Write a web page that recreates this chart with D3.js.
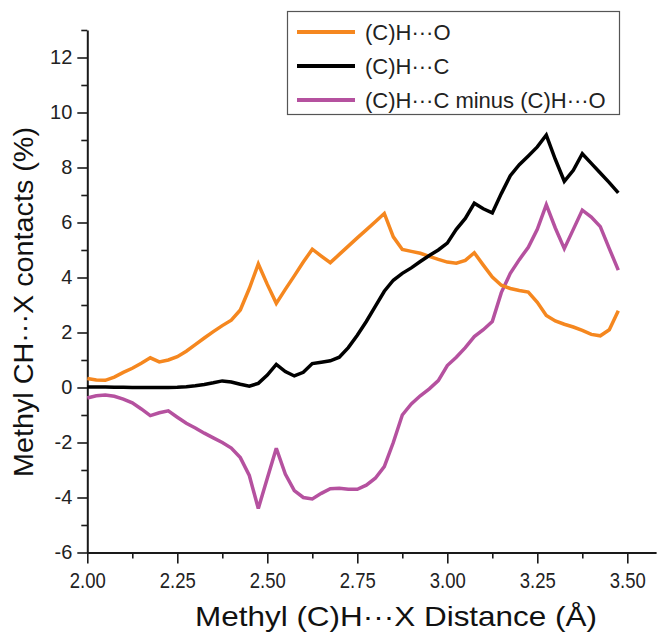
<!DOCTYPE html>
<html>
<head>
<meta charset="utf-8">
<script src="https://cdn.jsdelivr.net/npm/d3@7"></script>
<style>
  html, body { margin: 0; padding: 0; background: #fff; }
  svg { display: block; font-family: "Liberation Sans", Arial, sans-serif; }
</style>
</head>
<body>
<svg id="chart" width="657" height="632"></svg>
<script>
// Methyl (C)H···X distance, Å
const distance = [
  2.000, 2.025, 2.050, 2.075, 2.100, 2.125, 2.150, 2.175, 2.200, 2.225,
  2.250, 2.275, 2.300, 2.325, 2.350, 2.375, 2.400, 2.425, 2.450, 2.475,
  2.500, 2.525, 2.550, 2.575, 2.600, 2.625, 2.650, 2.675, 2.700, 2.725,
  2.750, 2.775, 2.800, 2.825, 2.850, 2.875, 2.900, 2.925, 2.950, 2.975,
  3.000, 3.025, 3.050, 3.075, 3.100, 3.125, 3.150, 3.175, 3.200, 3.225,
  3.250, 3.275, 3.300, 3.325, 3.350, 3.375, 3.400, 3.425, 3.450, 3.475
];

// (C)H···O contacts, %
const hoContacts = [
  0.33, 0.27, 0.26, 0.38, 0.55, 0.70, 0.88, 1.08, 0.93, 1.00,
  1.12, 1.32, 1.56, 1.80, 2.03, 2.25, 2.45, 2.82, 3.60, 4.49,
  3.75, 3.06, 3.57, 4.06, 4.56, 5.03, 4.78, 4.54, 4.84, 5.14,
  5.44, 5.73, 6.03, 6.33, 5.48, 5.02, 4.95, 4.88, 4.77, 4.66,
  4.56, 4.52, 4.62, 4.90, 4.45, 4.02, 3.72, 3.60, 3.53, 3.47,
  3.10, 2.62, 2.42, 2.30, 2.20, 2.08, 1.93, 1.88, 2.10, 2.79
];

// (C)H···C contacts, %
const hcContacts = [
  0.02, 0.02, 0.02, 0.01, 0.01, 0.00, 0.00, 0.00, 0.00, 0.00,
  0.01, 0.03, 0.06, 0.11, 0.17, 0.24, 0.20, 0.12, 0.05, 0.15,
  0.45, 0.84, 0.58, 0.42, 0.55, 0.87, 0.92, 0.97, 1.10, 1.45,
  1.90, 2.40, 2.95, 3.50, 3.90, 4.15, 4.35, 4.58, 4.80, 5.00,
  5.25, 5.75, 6.15, 6.70, 6.50, 6.35, 7.05, 7.70, 8.10, 8.42,
  8.75, 9.18, 8.30, 7.50, 7.90, 8.50, 8.15, 7.80, 7.45, 7.08
];

// (C)H···C minus (C)H···O, %
const difference = [
  -0.38, -0.30, -0.27, -0.32, -0.42, -0.56, -0.78, -1.02, -0.92, -0.85,
  -1.08, -1.30, -1.47, -1.66, -1.83, -2.00, -2.20, -2.55, -3.20, -4.40,
  -3.30, -2.21, -3.15, -3.75, -4.00, -4.05, -3.85, -3.68, -3.66, -3.70,
  -3.70, -3.55, -3.30, -2.88, -2.00, -1.00, -0.60, -0.30, -0.05, 0.25,
  0.80, 1.10, 1.45, 1.85, 2.10, 2.40, 3.45, 4.15, 4.65, 5.10,
  5.75, 6.65, 5.80, 5.05, 5.75, 6.45, 6.20, 5.85, 5.05, 4.27
];

const seriesNames = ["(C)H\u00B7\u00B7\u00B7O", "(C)H\u00B7\u00B7\u00B7C", "(C)H\u00B7\u00B7\u00B7C minus (C)H\u00B7\u00B7\u00B7O"];
const seriesColors = ["#f5871f", "#000000", "#b5519f"];

const xMajorTicks = [2.00, 2.25, 2.50, 2.75, 3.00, 3.25, 3.50];
const xMinorTicks = [2.125, 2.375, 2.625, 2.875, 3.125, 3.375];
const yMajorTicks = [-6, -4, -2, 0, 2, 4, 6, 8, 10, 12];
const yMinorTicks = [-5, -3, -1, 1, 3, 5, 7, 9, 11, 13];

const svg = d3.select("#chart");
const margin = { left: 87.3, top: 30, bottom: 552.5 };

const x = d3.scaleLinear().domain([2.0, 3.58]).range([margin.left, margin.left + 1.58 * 360]);
const y = d3.scaleLinear().domain([-6, 13]).range([margin.bottom, margin.top]);

const axisColor = "#1a1a1a";

// minor ticks first, then major axes on top
svg.append("g")
  .attr("transform", `translate(0,${margin.bottom})`)
  .call(d3.axisBottom(x).tickValues(xMinorTicks).tickSize(6).tickFormat(""))
  .call(g => g.select(".domain").remove());
svg.append("g")
  .attr("transform", `translate(${margin.left},0)`)
  .call(d3.axisLeft(y).tickValues(yMinorTicks).tickSize(6).tickFormat(""))
  .call(g => g.select(".domain").remove());

const xAxis = svg.append("g")
  .attr("transform", `translate(0,${margin.bottom})`)
  .call(d3.axisBottom(x).tickValues(xMajorTicks).tickSize(11).tickSizeOuter(0).tickPadding(9)
    .tickFormat(d => d.toFixed(2)));
xAxis.selectAll("text")
  .attr("font-size", 22)
  .attr("dy", "0.71em")
  .attr("textLength", 36)
  .attr("lengthAdjust", "spacingAndGlyphs");

const yAxis = svg.append("g")
  .attr("transform", `translate(${margin.left},0)`)
  .call(d3.axisLeft(y).tickValues(yMajorTicks).tickSize(10).tickSizeOuter(0).tickPadding(5)
    .tickFormat(d => String(d)));
yAxis.selectAll("text").attr("font-size", 20);

svg.selectAll(".tick line").attr("stroke", axisColor).attr("stroke-width", 1.6);
svg.selectAll(".domain").attr("stroke", axisColor).attr("stroke-width", 2);
svg.selectAll(".tick text").attr("fill", "#222");

// axis titles
svg.append("text")
  .attr("x", 396).attr("y", 626)
  .attr("text-anchor", "middle")
  .attr("font-size", 28)
  .attr("fill", "#111")
  .attr("textLength", 402)
  .attr("lengthAdjust", "spacingAndGlyphs")
  .text("Methyl (C)H\u00B7\u00B7\u00B7X Distance (\u00C5)");

svg.append("text")
  .attr("transform", "translate(33,302) rotate(-90)")
  .attr("text-anchor", "middle")
  .attr("font-size", 28)
  .attr("fill", "#111")
  .attr("textLength", 350)
  .attr("lengthAdjust", "spacingAndGlyphs")
  .text("Methyl CH\u00B7\u00B7\u00B7X contacts (%)");

// data curves: straight segments keep the sharp peaks
const seriesValues = [hoContacts, hcContacts, difference];
const line = d3.line()
  .x(d => x(d[0]))
  .y(d => y(d[1]))
  .curve(d3.curveLinear);

// draw order: difference underneath, then H···O, then H···C
[2, 0, 1].forEach(i => {
  svg.append("path")
    .datum(distance.map((dx, k) => [dx, seriesValues[i][k]]))
    .attr("fill", "none")
    .attr("stroke", seriesColors[i])
    .attr("stroke-width", 3.5)
    .attr("stroke-linejoin", "miter")
    .attr("stroke-miterlimit", 3)
    .attr("d", line);
});

// legend
const legend = svg.append("g");
legend.append("rect")
  .attr("x", 287.5).attr("y", 11.5)
  .attr("width", 332).attr("height", 103)
  .attr("fill", "#fff")
  .attr("stroke", "#555")
  .attr("stroke-width", 1.2);

seriesNames.forEach((name, i) => {
  const cy = 32 + i * 34;
  legend.append("line")
    .attr("x1", 297).attr("x2", 355)
    .attr("y1", cy).attr("y2", cy)
    .attr("stroke", seriesColors[i])
    .attr("stroke-width", 4);
  legend.append("text")
    .attr("x", 365).attr("y", cy + 8)
    .attr("font-size", 22)
    .attr("fill", "#222")
    .text(name);
});
</script>
</body>
</html>
